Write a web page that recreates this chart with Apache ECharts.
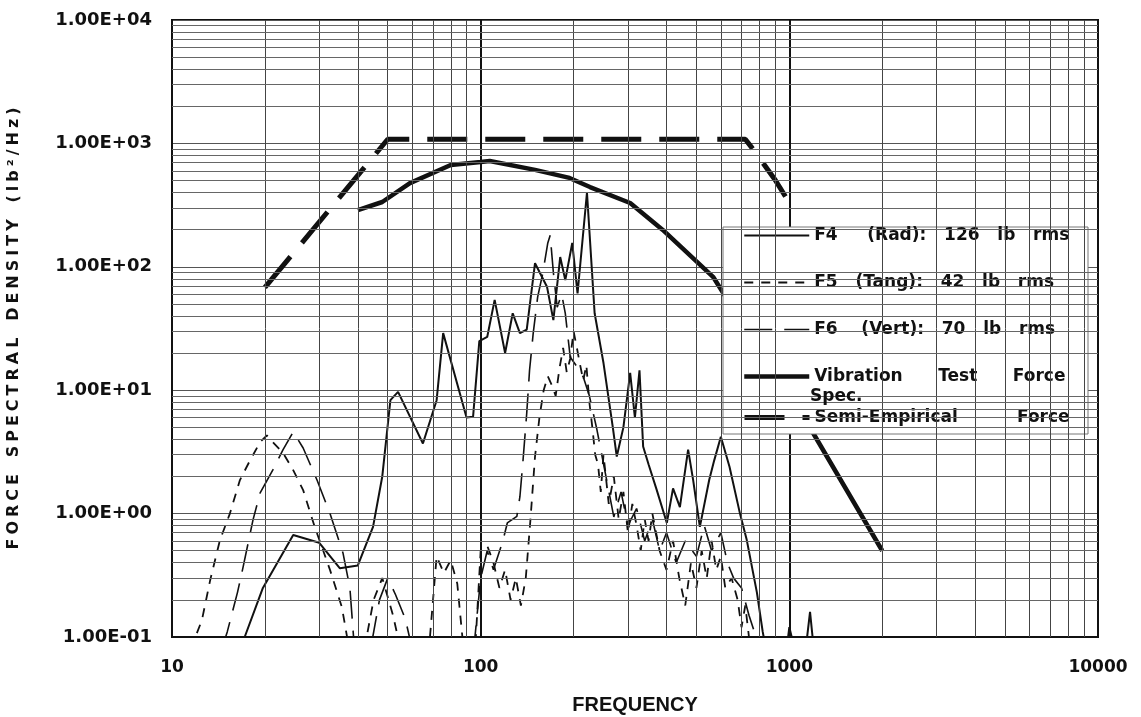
<!DOCTYPE html>
<html>
<head>
<meta charset="utf-8">
<script src="https://cdn.jsdelivr.net/npm/echarts@6/dist/echarts.min.js"></script>
<style>
  html, body { margin: 0; padding: 0; background: #fff; }
  #chart { width: 1141px; height: 717px; }
</style>
</head>
<body>
<div id="chart"></div>
<script>
// values: [frequency Hz, PSD lb^2/Hz]
const f4Rad = [
  [15, 0.08], [17.2, 0.1], [19.7, 0.25], [24.7, 0.67], [30, 0.58], [35, 0.36], [40, 0.38],
  [44.8, 0.78], [48, 2.0], [51, 8.3], [54, 9.7], [65, 3.7], [72, 8.3], [75.6, 29],
  [90, 6.0], [94.5, 6.1], [99, 25], [105, 27], [111, 54], [120, 20], [127, 42], [134, 29],
  [141, 31], [150, 107], [164, 69], [172, 37], [181, 120], [188, 78], [198, 156],
  [206, 61], [221, 400], [234, 42], [250, 16.6], [268, 5.0], [276, 2.9], [290, 5],
  [305, 13.8], [316, 6], [327, 14.5], [336, 3.5], [350, 2.5], [372, 1.55], [401, 0.84],
  [420, 1.6], [442, 1.13], [470, 3.3], [488, 1.87], [513, 0.78], [550, 1.87], [571, 2.7],
  [600, 4.2], [640, 2.4], [692, 1.0], [728, 0.61], [785, 0.23], [820, 0.11], [840, 0.08],
  [980, 0.08], [1000, 0.12], [1040, 0.08], [1130, 0.08], [1167, 0.16], [1200, 0.08]
];
const f5Tang = [
  [11.5, 0.08], [12.5, 0.137], [13.3, 0.29], [14.3, 0.61], [15.4, 1.0], [16.6, 1.87],
  [17.9, 2.7], [19.3, 3.8], [20.3, 4.3], [21, 3.9], [22.9, 3.1], [24.7, 2.25], [26.6, 1.55],
  [29, 0.78], [32.5, 0.35], [35.5, 0.175], [37.5, 0.08], [42, 0.08], [45, 0.2], [48, 0.3],
  [52, 0.15], [55, 0.08], [68, 0.08], [72, 0.45], [76, 0.33], [80, 0.42], [84, 0.27],
  [88, 0.08], [96, 0.08], [100, 0.5], [105, 0.55], [110, 0.4], [115, 0.25], [120, 0.35],
  [125, 0.2], [130, 0.3], [135, 0.18], [140, 0.3], [145, 0.9], [150, 2.9], [155, 6],
  [160, 10], [165, 13], [170, 11], [175, 9], [180, 15], [185, 22], [190, 14], [195, 18],
  [200, 30], [205, 22], [210, 16], [215, 12], [220, 16], [225, 8], [230, 5], [235, 3],
  [240, 2.5], [245, 1.5], [250, 3], [260, 1.2], [270, 2], [280, 0.9], [290, 1.5],
  [300, 0.7], [310, 1.2], [320, 0.8], [330, 0.5], [340, 0.9], [350, 0.6], [360, 1.0],
  [380, 0.5], [400, 0.35], [420, 0.6], [440, 0.3], [460, 0.18], [480, 0.4], [500, 0.25],
  [520, 0.5], [540, 0.3], [560, 0.6], [580, 0.35], [600, 0.45], [620, 0.25], [650, 0.3],
  [680, 0.2], [700, 0.12], [720, 0.18], [740, 0.1], [760, 0.08]
];
const f6Vert = [
  [14.5, 0.08], [15.1, 0.11], [16.3, 0.23], [17, 0.37], [18.3, 0.89], [19.3, 1.47],
  [21.2, 2.25], [22.9, 3.3], [24.7, 4.6], [26.6, 3.4], [29.5, 1.87], [32.5, 1.0],
  [35.8, 0.48], [37.7, 0.25], [39, 0.08], [44, 0.08], [47, 0.2], [50, 0.3], [53, 0.22],
  [57, 0.14], [60, 0.08], [95, 0.08], [100, 0.3], [105, 0.5], [110, 0.35], [118, 0.6],
  [122, 0.84], [131, 0.95], [134, 1.37], [137, 2.6], [141, 6.5], [144, 14.5], [148, 29],
  [153, 57], [159, 89], [165, 156], [168, 180], [172, 90], [177, 47], [183, 60],
  [188, 42], [195, 18.6], [205, 15.5], [215, 12.8], [225, 9], [238, 4.8], [256, 1.87],
  [270, 0.94], [285, 1.5], [300, 0.8], [320, 1.1], [340, 0.6], [360, 0.9], [380, 0.5],
  [400, 0.7], [430, 0.4], [460, 0.6], [500, 0.45], [530, 0.8], [560, 0.5], [600, 0.7],
  [630, 0.4], [660, 0.3], [700, 0.25], [740, 0.15], [780, 0.1], [800, 0.08]
];
const vibSpec = [
  [40, 288], [48, 335], [59, 477], [80, 668], [100, 706], [107, 720], [150, 610],
  [194, 525], [226, 443], [305, 329], [389, 199], [566, 83], [800, 21], [1194, 4.5],
  [2000, 0.5]
];
const semiEmp = [
  [20, 68], [50, 1080], [720, 1080], [757, 920], [900, 505], [1000, 330]
];

// the scan sets its legend text with wide word gaps
const seriesNames = [
  'F4     (Rad):   126   lb   rms',
  'F5   (Tang):   42   lb   rms',
  'F6    (Vert):   70   lb   rms',
  'Vibration      Test      Force',
  'Semi-Empirical          Force'
];
const seriesWidths = [2, 1.8, 1.6, 4.5, 5];

const minorSteps = [2, 3, 4, 5, 6, 7, 8, 9];
const xDecades = [10, 100, 1000];
const yDecades = [0.1, 1, 10, 100, 1000];
const xMinor = [];
xDecades.forEach(d => minorSteps.forEach(m => xMinor.push(d * m)));
const yMinor = [];
yDecades.forEach(d => minorSteps.forEach(m => yMinor.push(d * m)));

const ink = '#111';
const font = 'DejaVu Sans';

const expLabel = v => {
  const e = Math.round(Math.log10(v));
  return '1.00E' + (e < 0 ? '-' : '+') + String(Math.abs(e)).padStart(2, '0');
};
// loose letter tracking like the scan
const track = s => s.split('').join('\u2005');

const chart = echarts.init(document.getElementById('chart'));

const lineSeries = (i, data, dash) => ({
  name: seriesNames[i], type: 'line', data, symbol: 'none', z: 2,
  lineStyle: { color: ink, width: seriesWidths[i], type: dash || 'solid' },
  itemStyle: { color: ink }
});

const legendItem = i => ({ name: seriesNames[i], lineStyle: { width: seriesWidths[i] } });

const legendBase = {
  orient: 'vertical', left: 742, padding: 0, itemWidth: 65, itemHeight: 16,
  selectedMode: false, z: 5, itemStyle: { opacity: 0 },
  textStyle: { fontFamily: font, fontWeight: 'bold', fontSize: 17, color: ink, lineHeight: 16 }
};

chart.setOption({
  animation: false,
  backgroundColor: '#fff',
  grid: {
    left: 172, right: 43, top: 20, bottom: 80, outerBoundsMode: 'none', containLabel: false,
    show: true, borderColor: ink, borderWidth: 2
  },
  xAxis: {
    type: 'log', logBase: 10, min: 10, max: 10000,
    name: 'FREQUENCY', nameLocation: 'middle', nameGap: 58,
    nameTextStyle: { fontFamily: 'Liberation Sans', fontWeight: 'bold', fontSize: 20, color: ink },
    axisLine: { lineStyle: { color: ink, width: 2 } },
    axisTick: { show: false },
    axisLabel: { fontFamily: font, fontWeight: 'bold', fontSize: 17, color: ink, margin: 22,
      formatter: v => String(Math.round(v)) },
    splitLine: { show: true, lineStyle: { color: ink, width: 2 } }
  },
  yAxis: {
    type: 'log', logBase: 10, min: 0.1, max: 10000,
    name: track('FORCE') + '   ' + track('SPECTRAL') + '   ' + track('DENSITY') + '   ' + track('(lb\u00b2/Hz)'),
    nameLocation: 'middle', nameGap: 150,
    nameTextStyle: { fontFamily: font, fontWeight: 'bold', fontSize: 16, color: ink },
    axisLine: { lineStyle: { color: ink, width: 2 } },
    axisTick: { show: false },
    axisLabel: { fontFamily: font, fontWeight: 'bold', fontSize: 18, color: ink, margin: 20, formatter: expLabel },
    splitLine: { show: true, lineStyle: { color: '#555', width: 1 } }
  },
  legend: [
    Object.assign({}, legendBase, { data: [0, 1, 2, 3].map(legendItem), top: 227, itemGap: 30 }),
    Object.assign({}, legendBase, { data: [legendItem(4)], top: 409 })
  ],
  graphic: [
    { type: 'rect', z: 3, shape: { x: 723, y: 227, width: 365, height: 207 },
      style: { fill: '#fff', stroke: '#777', lineWidth: 1 } },
    { type: 'text', z: 6, x: 810, y: 397,
      style: { text: 'Spec.', fill: ink, font: 'bold 17px "DejaVu Sans"', verticalAlign: 'middle' } }
  ],
  series: [
    {
      name: 'grid', type: 'line', data: [], z: 1, silent: true,
      markLine: {
        silent: true, symbol: ['none', 'none'], label: { show: false },
        lineStyle: { color: '#444', width: 1, type: 'solid' },
        data: xMinor.map(v => ({ xAxis: v })).concat(yMinor.map(v => ({ yAxis: v, lineStyle: { color: '#666' } })))
      }
    },
    lineSeries(0, f4Rad),
    lineSeries(1, f5Tang, [9, 8]),
    lineSeries(2, f6Vert, [28, 12]),
    lineSeries(3, vibSpec),
    lineSeries(4, semiEmp, [40, 18])
  ]
});
</script>
</body>
</html>
